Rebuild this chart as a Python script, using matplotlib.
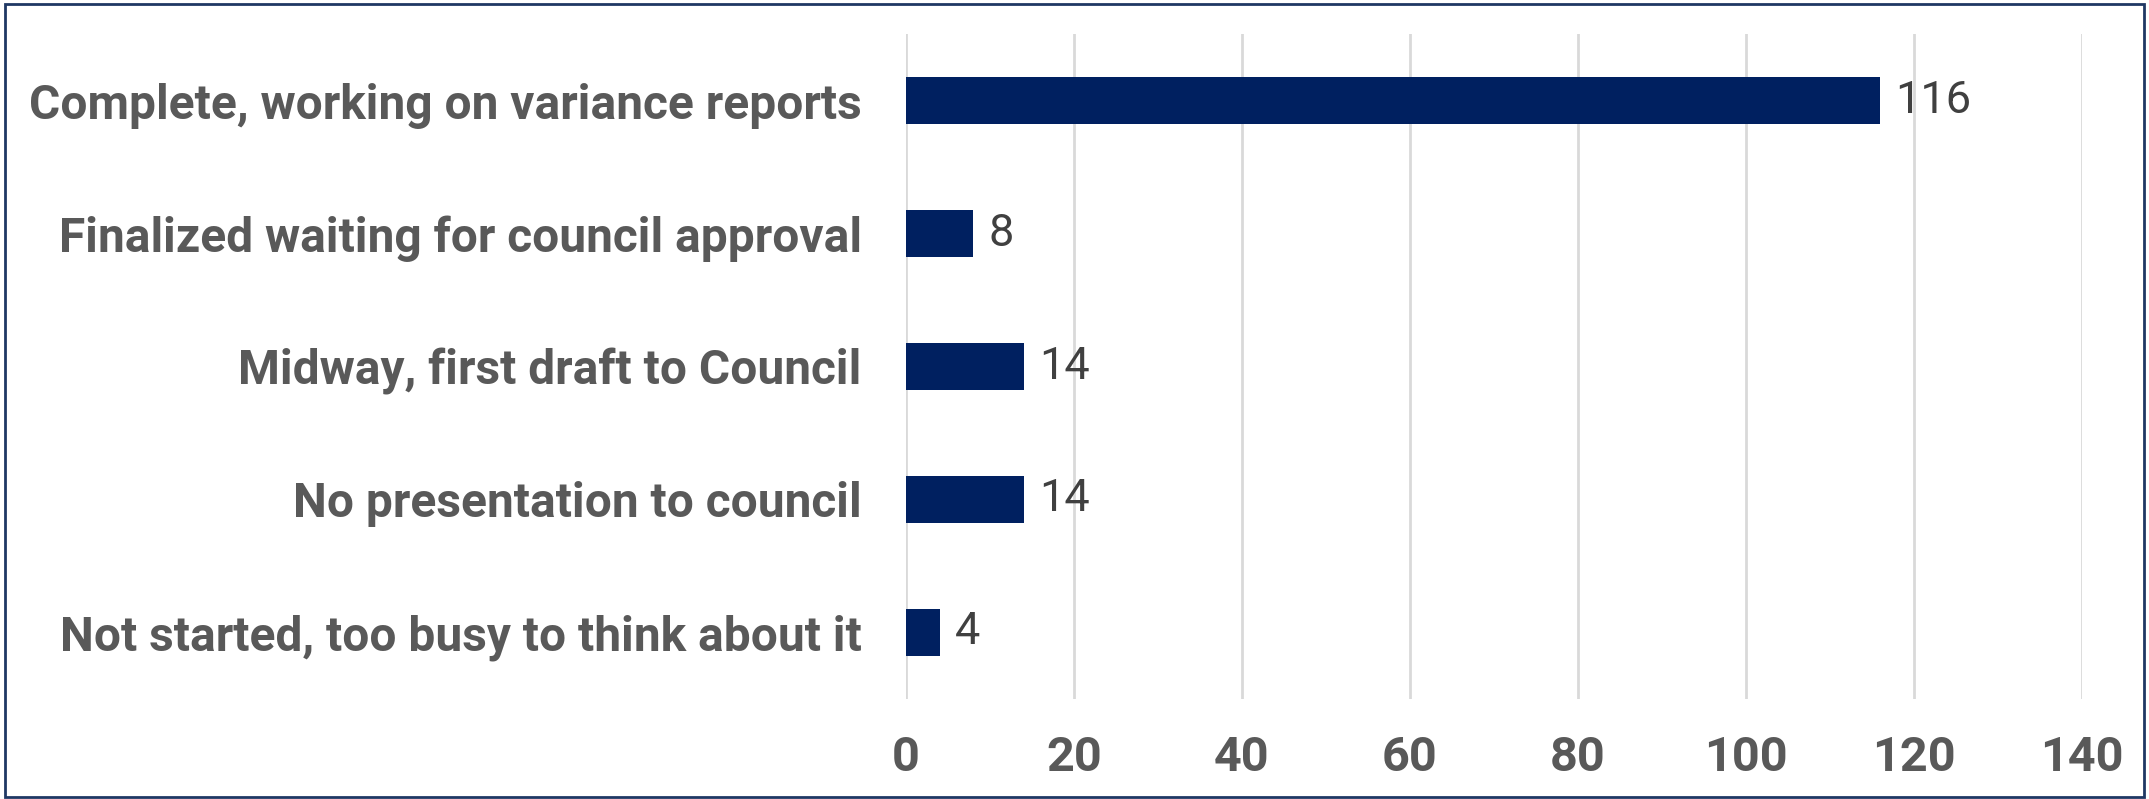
import matplotlib.pyplot as plt
from matplotlib.patches import Rectangle

# Data
categories = [
    "Complete, working on variance reports",
    "Finalized waiting for council approval",
    "Midway, first draft to Council",
    "No presentation to council",
    "Not started, too busy to think about it",
]
counts = [116, 8, 14, 14, 4]
xticks = [0, 20, 40, 60, 80, 100, 120, 140]

fig = plt.figure(figsize=(21.49, 7.99), dpi=100)
ax = fig.add_axes([0.4216, 0.1252, 0.5472, 0.8322])

ypos = list(range(len(categories)))
bars = ax.barh(ypos, counts, height=0.35, color="#002060", zorder=3)

ax.set_ylim(len(categories) - 0.5, -0.5)
ax.set_xlim(0, 140)
ax.set_xticks(xticks)
ax.set_xticklabels([str(t) for t in xticks], fontfamily="Roboto",
                   fontweight="bold", fontsize=35, color="#595959")
ax.set_yticks(ypos)
ax.set_yticklabels(categories, fontfamily="Roboto", fontweight="bold",
                   fontsize=34.5, color="#595959")
ax.tick_params(axis="both", length=0)
ax.tick_params(axis="x", pad=26)
ax.tick_params(axis="y", pad=32)

ax.grid(axis="x", color="#d9d9d9", linewidth=2, zorder=0)
for s in ax.spines.values():
    s.set_visible(False)

# value labels
for b, v in zip(bars, counts):
    ax.text(b.get_width() + 1.8, b.get_y() + b.get_height() / 2, str(v),
            va="center", ha="left", fontfamily="Roboto", fontsize=32.5,
            color="#404040")

# thin navy border around the chart
fig.patches.append(Rectangle((0.0025, 0.002), 0.995, 0.993, transform=fig.transFigure,
                             fill=False, edgecolor="#1f3864", linewidth=2))

fig.savefig("out.png", dpi=100)
